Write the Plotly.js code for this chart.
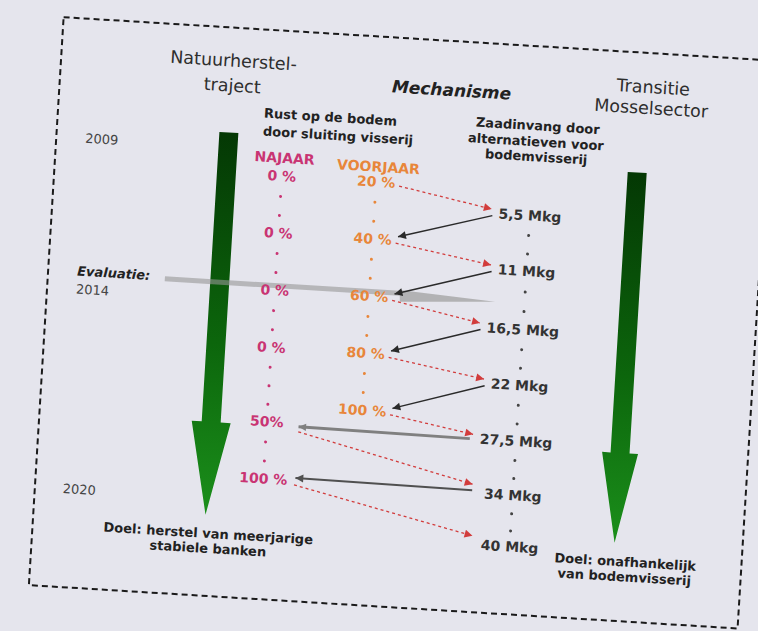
<!DOCTYPE html>
<html><head><meta charset="utf-8">
<script src="https://cdn.plot.ly/plotly-3.0.1.min.js"></script>
<style>
html,body{margin:0;padding:0;width:758px;height:631px;overflow:hidden;background:#e5e5ed;}
#chart{position:absolute;left:0;top:0;width:758px;height:631px;transform:rotate(3.5deg);transform-origin:379px 315.5px;}
</style></head><body><div id="chart"></div>
<script>
// ---------------- data ----------------
const najaarPct = [0, 0, 0, 0, 50, 100];
const najaarLabels = ['0 %', '0 %', '0 %', '0 %', '50%', '100 %'];
const voorjaarPct = [20, 40, 60, 80, 100];
const voorjaarLabels = ['20 %', '40 %', '60 %', '80 %', '100 %'];
const zaadMkg = [5.5, 11, 16.5, 22, 27.5, 34, 40];
const zaadLabels = ['5,5 Mkg', '11 Mkg', '16,5 Mkg', '22 Mkg', '27,5 Mkg', '34 Mkg', '40 Mkg'];
const yearLabels = ['2009', '2014', '2020'];

// step positions along the timeline (rows)
const najaarRows = [0, 2, 4, 6, 8.6, 10.6];
const voorjaarRows = [0, 2, 4, 6, 8];
const zaadRows = [0.85, 2.8, 4.85, 6.8, 8.75, 10.65, 12.45];

// ---------------- layout constants ----------------
const W = 758, H = 631, Y0 = 183.6, RP = 28.6;
const colN = 273.5, colV = 368, colM = 523.5;
const ry = py => (py - Y0) / RP;
const FONT = 'DejaVu Sans';
const PINK = '#c93473', ORANGE = '#e8863a', DARK = '#333333', RED = '#d23c3c';

const cv = document.createElement('canvas').getContext('2d');
function tw(s, size) { cv.font = 'bold ' + size + 'px "DejaVu Sans"'; return cv.measureText(s).width; }

const traces = [];
const heads = [];

// green arrows
function greenArrow(cx, top, base, tip, sh, hh) {
  const xs = [cx - sh, cx + sh, cx + sh, cx + hh, cx, cx - hh, cx - sh, cx - sh];
  const ys = [top, top, base, base, tip, base, base, top].map(ry);
  traces.push({x: xs, y: ys, mode: 'lines', fill: 'toself', line: {width: 0, color: 'rgba(0,0,0,0)'},
    fillgradient: {type: 'vertical', colorscale: [[0, '#1b8f1b'], [0.45, '#0c660c'], [1, '#043804']]},
    hoverinfo: 'skip'});
}
greenArrow(218, 142, 432, 525, 9.5, 19.5);
greenArrow(628, 157, 438, 528, 9.5, 18);

// evaluation line 2014
traces.push({x: [163, 398], y: [ry(292), ry(292)], mode: 'lines',
  line: {color: 'rgba(150,150,150,0.6)', width: 5}, hoverinfo: 'skip'});
traces.push({x: [398, 399, 494, 398], y: [288.7, 300.4, 294.6, 288.7].map(ry), mode: 'lines', fill: 'toself',
  fillcolor: 'rgba(165,165,165,0.8)', line: {width: 0, color: 'rgba(0,0,0,0)'}, hoverinfo: 'skip'});

// dotted separators between values
function sepDots(rows, x, counts, color) {
  const xs = [], ys = [];
  for (let i = 0; i < rows.length - 1; i++) {
    const n = counts[i];
    for (let k = 1; k <= n; k++) { xs.push(x); ys.push(rows[i] + (rows[i + 1] - rows[i]) * k / (n + 1)); }
  }
  traces.push({x: xs, y: ys, mode: 'markers', marker: {size: 3, color: color}, hoverinfo: 'skip'});
}
sepDots(najaarRows, colN, [2, 2, 2, 3, 2], PINK);
sepDots(voorjaarRows, colV, [2, 2, 2, 2], ORANGE);
sepDots(zaadRows, colM, [2, 2, 2, 2, 2, 2], '#444');

// arrows: line as trace, head as annotation
function arrow(x0, y0, x1, y1, color, width, dash, hs) {
  traces.push({x: [x0, x1], y: [y0, y1], mode: 'lines',
    line: {color: color, width: width, dash: dash}, hoverinfo: 'skip'});
  const dxp = x1 - x0, dyp = (y1 - y0) * RP, L = Math.hypot(dxp, dyp);
  const back = 5;
  heads.push({x: x1, y: y1, xref: 'x', yref: 'y', axref: 'x', ayref: 'y',
    ax: x1 - dxp / L * back, ay: y1 - (dyp / L * back) / RP, text: '', showarrow: true,
    arrowhead: 2, arrowsize: hs, arrowwidth: 1.5, arrowcolor: color, standoff: 0, startstandoff: 0});
}
const Vr = i => colV + tw(voorjaarLabels[i], 14) / 2 + 4;
const Ml = i => colM - tw(zaadLabels[i], 14) / 2 - 7;
const Nr = colN + 32;
for (let i = 0; i < voorjaarPct.length; i++) {
  arrow(Vr(i), voorjaarRows[i] + 1.5 / RP, Ml(i), zaadRows[i] - 5.5 / RP, RED, 1.3, 'dot', 1.05);
  if (i < voorjaarPct.length - 1)
    arrow(Ml(i) + 1, zaadRows[i] + 1 / RP, Vr(i + 1) + 2, voorjaarRows[i + 1] - 5 / RP, '#2a2a2a', 1.5, 'solid', 1.05);
}
arrow(Ml(4) - 3, zaadRows[4] - 1 / RP, Nr, najaarRows[4] + 2 / RP, '#808080', 3, 'solid', 1.0);
arrow(Nr, najaarRows[4] + 7 / RP, Ml(5) - 5, zaadRows[5] - 10 / RP, RED, 1.3, 'dot', 1.05);
arrow(Ml(5) - 5, zaadRows[5] - 4 / RP, Nr, najaarRows[5] - 4 / RP, '#505050', 2, 'solid', 1.05);
arrow(Nr - 1, najaarRows[5] + 3 / RP, Ml(6) - 2, zaadRows[6] - 10 / RP, RED, 1.3, 'dot', 1.05);

// value labels
function labels(xc, rows, text, color) {
  traces.push({x: rows.map(() => xc), y: rows, mode: 'text', text: text, textposition: 'middle center',
    textfont: {family: FONT, size: 14, color: color, weight: 'bold'}, hoverinfo: 'skip'});
}
labels(colN, najaarRows, najaarLabels, PINK);
labels(colV, voorjaarRows, voorjaarLabels, ORANGE);
labels(colM, zaadRows, zaadLabels, DARK);

// annotations (texts)
function ann(text, x, py, size, color, opts) {
  return Object.assign({text: text, x: x, y: ry(py), xref: 'x', yref: 'y', showarrow: false,
    xanchor: 'center', yanchor: 'middle',
    font: {family: FONT, size: size, color: color}}, opts || {});
}
const bold = (size, color, extra) => Object.assign({family: FONT, size: size, color: color, weight: 'bold'}, extra || {});
const annotations = [
  ann('Natuurherstel-', 218.5, 69.5, 17.5, '#2e2e2e'),
  ann('traject', 218.5, 94.5, 17.5, '#2e2e2e'),
  ann('Transitie', 638.6, 70.5, 17.5, '#2e2e2e'),
  ann('Mosselsector', 638.8, 92, 17.5, '#2e2e2e'),
  ann('Mechanisme', 437.7, 86, 17, '#222', {font: bold(17, '#222', {style: 'italic'})}),
  ann('Rust op de bodem', 250, 120.3, 13, '#222', {xanchor: 'left', font: bold(13, '#222')}),
  ann('door sluiting visserij', 250, 138.3, 13, '#222', {xanchor: 'left', font: bold(13, '#222')}),
  ann('Zaadinvang door', 525.5, 116.4, 13, '#222', {font: bold(13, '#222')}),
  ann('alternatieven voor', 525.5, 132.4, 13, '#222', {font: bold(13, '#222')}),
  ann('bodemvisserij', 525.5, 147.8, 13, '#222', {font: bold(13, '#222')}),
  ann('NAJAAR', colN + 1, 164.4, 14, PINK, {font: bold(14, PINK)}),
  ann('VOORJAAR', colV + 1, 166.5, 14, ORANGE, {font: bold(14, ORANGE)}),
  ann(yearLabels[0], 73, 156.6, 13, '#444', {xanchor: 'left'}),
  ann('Evaluatie:', 73, 289.7, 13, '#222', {xanchor: 'left', font: bold(13, '#222', {style: 'italic'})}),
  ann(yearLabels[1], 73, 307.6, 13, '#444', {xanchor: 'left'}),
  ann(yearLabels[2], 72, 507, 13, '#444', {xanchor: 'left'}),
  ann('Doel: herstel van meerjarige', 222, 543.5, 13, '#222', {font: bold(13, '#222')}),
  ann('stabiele banken', 222, 558.5, 13, '#222', {font: bold(13, '#222')}),
  ann('Doel: onafhankelijk', 640, 546.2, 13, '#222', {font: bold(13, '#222')}),
  ann('van bodemvisserij', 639.5, 561.3, 13, '#222', {font: bold(13, '#222')})
].concat(heads);

const layout = {
  width: W, height: H, margin: {l: 0, r: 0, t: 0, b: 0},
  paper_bgcolor: 'rgba(0,0,0,0)', plot_bgcolor: 'rgba(0,0,0,0)',
  showlegend: false,
  xaxis: {range: [0, W], visible: false, fixedrange: true},
  yaxis: {range: [(H - Y0) / RP, -Y0 / RP], visible: false, fixedrange: true},
  shapes: [{type: 'rect', xref: 'x', yref: 'y', x0: 46, x1: 756, y0: ry(37), y1: ry(606),
    line: {color: '#1a1a1a', width: 2, dash: '6px,4px'}, fillcolor: 'rgba(0,0,0,0)', layer: 'below'}],
  annotations: annotations,
  font: {family: FONT}
};
Plotly.newPlot('chart', traces, layout, {staticPlot: true, displayModeBar: false});
</script></body></html>
